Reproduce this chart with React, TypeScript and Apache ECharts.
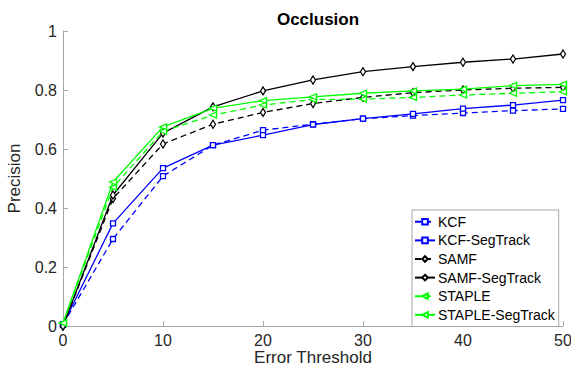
import React, { useEffect, useRef } from "react";
import * as echarts from "echarts";

const thresholds = [0, 5, 10, 15, 20, 25, 30, 35, 40, 45, 50];
const kcf = [0.005, 0.295, 0.508, 0.613, 0.664, 0.684, 0.703, 0.713, 0.722, 0.73, 0.736];
const kcfSeg = [0.005, 0.348, 0.535, 0.613, 0.647, 0.683, 0.703, 0.719, 0.737, 0.749, 0.766];
const samf = [0, 0.432, 0.617, 0.684, 0.724, 0.754, 0.775, 0.791, 0.8, 0.806, 0.809];
const samfSeg = [0, 0.444, 0.654, 0.743, 0.797, 0.834, 0.862, 0.879, 0.894, 0.905, 0.922];
const staple = [0.01, 0.47, 0.66, 0.715, 0.749, 0.768, 0.769, 0.775, 0.783, 0.789, 0.794];
const stapleSeg = [0.01, 0.488, 0.675, 0.738, 0.764, 0.777, 0.789, 0.797, 0.803, 0.815, 0.819];

const seriesDefs = [
  { name: "KCF", data: kcf, color: "#0000ff", symbol: "rect", dashed: true, rotate: 0 },
  { name: "KCF-SegTrack", data: kcfSeg, color: "#0000ff", symbol: "rect", dashed: false, rotate: 0 },
  { name: "SAMF", data: samf, color: "#000000", symbol: "diamond", dashed: true, rotate: 0 },
  { name: "SAMF-SegTrack", data: samfSeg, color: "#000000", symbol: "diamond", dashed: false, rotate: 0 },
  { name: "STAPLE", data: staple, color: "#00ff00", symbol: "triangle", dashed: true, rotate: 90 },
  { name: "STAPLE-SegTrack", data: stapleSeg, color: "#00ff00", symbol: "triangle", dashed: false, rotate: 90 },
];

const FONT = "Liberation Sans, Arial, Helvetica, sans-serif";

function symSize(symbol: string) {
  if (symbol === "rect") return 5;
  if (symbol === "diamond") return [5, 8];
  return [6, 7];
}

export default function App() {
  const ref = useRef<HTMLDivElement>(null);
  useEffect(() => {
    if (!ref.current) return;
    const chart = echarts.init(ref.current, undefined, { renderer: "svg" });
    chart.setOption({
      animation: false,
      backgroundColor: "#ffffff",
      title: {
        text: "Occlusion",
        left: 313,
        textAlign: "center",
        top: 6,
        textStyle: { fontFamily: FONT, fontSize: 17, fontWeight: "bold", color: "#000" },
      },
      grid: { left: 63, right: 8, top: 31, bottom: 42, containLabel: false, outerBoundsMode: "none" },
      xAxis: {
        type: "value",
        min: 0,
        max: 50,
        interval: 10,
        name: "Error Threshold",
        nameLocation: "middle",
        nameGap: 22,
        nameMoveOverlap: false,
        nameTextStyle: { fontFamily: FONT, fontSize: 17, lineHeight: 18, color: "#262626" },
        axisLine: { show: true, onZero: false, lineStyle: { color: "#a6a6a6", width: 1 } },
        axisTick: { show: true, inside: true, length: 5, lineStyle: { color: "#a6a6a6" } },
        axisLabel: { fontFamily: FONT, fontSize: 16, color: "#262626", margin: 6 },
        splitLine: { show: false },
      },
      yAxis: {
        type: "value",
        min: 0,
        max: 1,
        interval: 0.2,
        name: "Precision",
        nameLocation: "middle",
        nameGap: 40,
        nameMoveOverlap: false,
        nameTextStyle: { fontFamily: FONT, fontSize: 17, color: "#262626" },
        axisLine: { show: true, lineStyle: { color: "#a6a6a6", width: 1 } },
        axisTick: { show: true, inside: true, length: 5, lineStyle: { color: "#a6a6a6" } },
        axisLabel: { fontFamily: FONT, fontSize: 16, color: "#262626", margin: 6 },
        splitLine: { show: false },
      },
      legend: {
        orient: "vertical",
        left: 412,
        top: 210,
        padding: [4, 4, 4, 2],
        itemGap: 3,
        itemWidth: 20,
        itemHeight: 7,
        backgroundColor: "#ffffff",
        borderColor: "#a6a6a6",
        borderWidth: 1,
        textStyle: { fontFamily: FONT, fontSize: 14, color: "#000", lineHeight: 15.6, padding: [0, 0, 0, -2] },
        data: seriesDefs.map((s) => s.name),
      },
      series: seriesDefs.map((s) => ({
        name: s.name,
        type: "line",
        data: s.data.map((v, i) => [thresholds[i], v]),
        symbol: s.symbol,
        symbolSize: symSize(s.symbol),
        symbolRotate: s.rotate,
        showAllSymbol: true,
        color: s.color,
        lineStyle: { color: s.color, width: 1.3, type: s.dashed ? [6, 4] : "solid" },
        itemStyle: { color: "#ffffff", borderColor: s.color, borderWidth: 1.3 },
        emphasis: { disabled: true },
      })),
    });
    return () => chart.dispose();
  }, []);
  return (
    <div
      ref={ref}
      style={{ position: "fixed", left: 0, top: 0, width: 571, height: 368, background: "#fff" }}
    />
  );
}
